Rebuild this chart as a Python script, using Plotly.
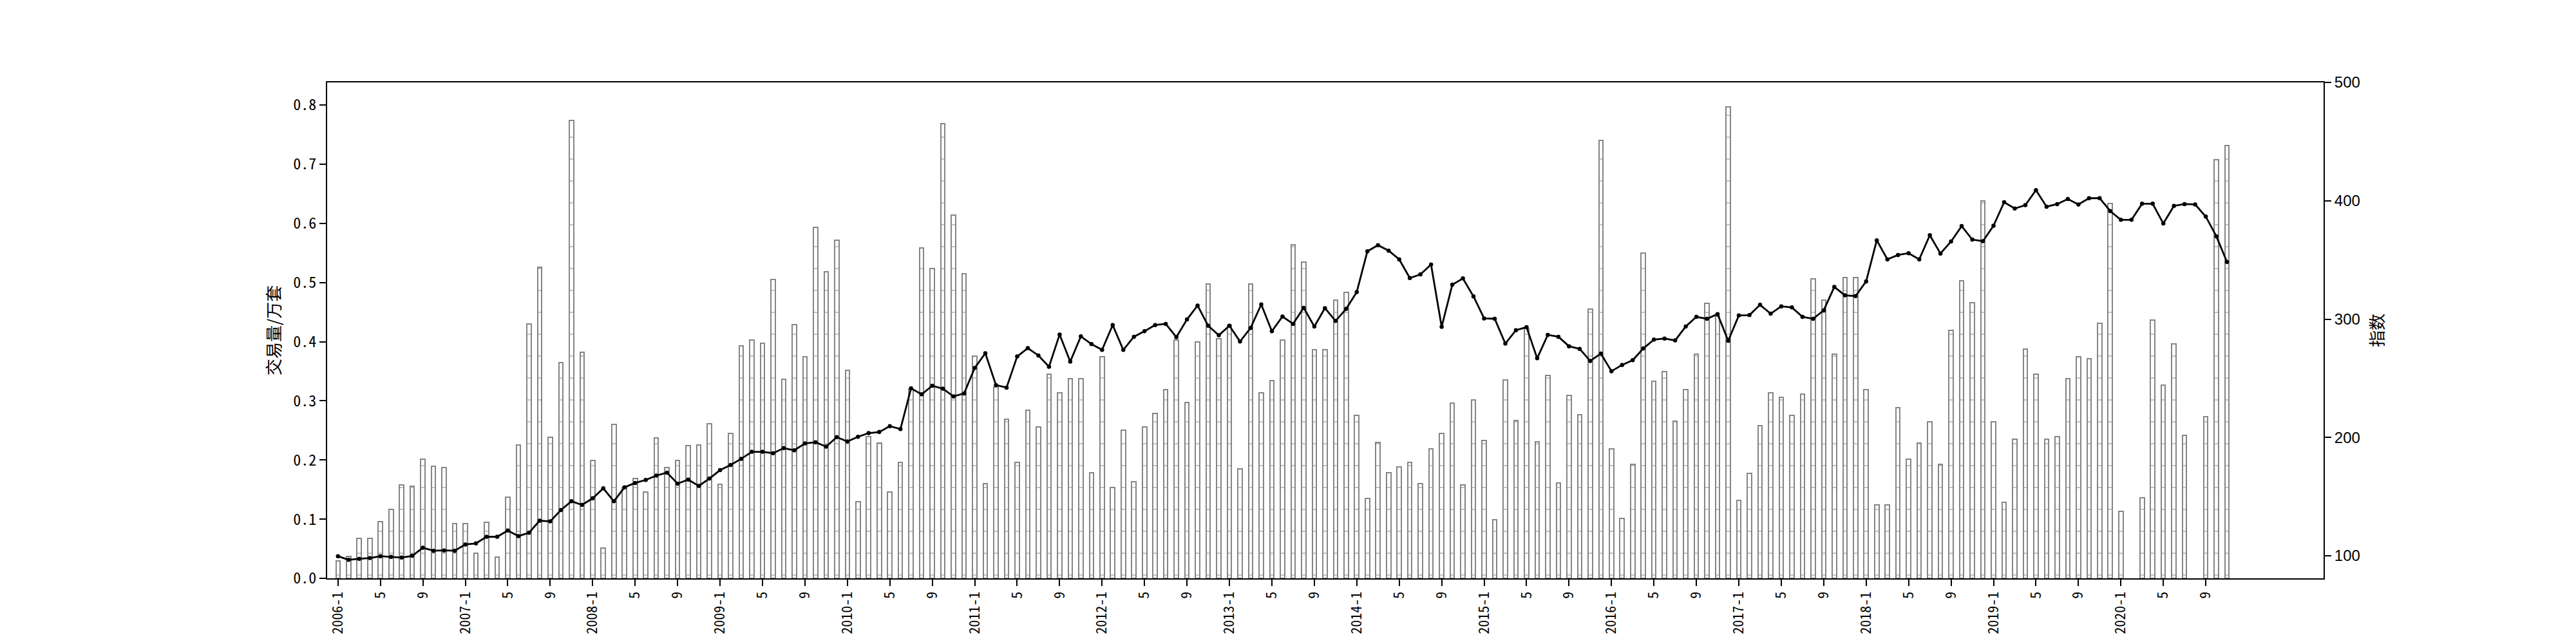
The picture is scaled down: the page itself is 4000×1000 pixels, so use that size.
import plotly.graph_objects as go

# ---- data ----
years = list(range(2006, 2021))
months = [f"{y}-{m}" for y in years for m in range(1, 13)][:179]  # 2006-1 .. 2020-11

volume = [
    0.029, 0.037, 0.067, 0.067, 0.096, 0.116, 0.158, 0.156, 0.201, 0.189, 0.187, 0.093,  # 2006
    0.093, 0.043, 0.095, 0.036, 0.137, 0.225, 0.430, 0.526, 0.238, 0.365, 0.774, 0.382,  # 2007
    0.199, 0.051, 0.260, 0.154, 0.169, 0.146, 0.237, 0.187, 0.199, 0.224, 0.225, 0.261,  # 2008
    0.159, 0.245, 0.393, 0.403, 0.397, 0.505, 0.336, 0.429, 0.374, 0.593, 0.518, 0.571,  # 2009
    0.352, 0.130, 0.239, 0.229, 0.146, 0.196, 0.320, 0.558, 0.524, 0.769, 0.614, 0.515,  # 2010
    0.376, 0.160, 0.323, 0.269, 0.196, 0.284, 0.256, 0.345, 0.313, 0.338, 0.338, 0.178,  # 2011
    0.374, 0.154, 0.250, 0.163, 0.256, 0.279, 0.319, 0.403, 0.297, 0.400, 0.497, 0.405,  # 2012
    0.428, 0.185, 0.497, 0.313, 0.334, 0.403, 0.564, 0.534, 0.386, 0.386, 0.470, 0.483,  # 2013
    0.275, 0.135, 0.230, 0.178, 0.188, 0.196, 0.160, 0.219, 0.245, 0.296, 0.158, 0.301,  # 2014
    0.233, 0.099, 0.335, 0.267, 0.422, 0.231, 0.343, 0.161, 0.309, 0.277, 0.455, 0.740,  # 2015
    0.219, 0.101, 0.193, 0.550, 0.333, 0.349, 0.266, 0.319, 0.379, 0.465, 0.443, 0.797,  # 2016
    0.132, 0.177, 0.258, 0.314, 0.306, 0.275, 0.311, 0.506, 0.470, 0.379, 0.508, 0.508,  # 2017
    0.319, 0.124, 0.124, 0.288, 0.201, 0.229, 0.264, 0.193, 0.419, 0.503, 0.466, 0.638,  # 2018
    0.264, 0.129, 0.235, 0.388, 0.345, 0.235, 0.239, 0.338, 0.374, 0.371, 0.431, 0.634,  # 2019
    0.113, None, 0.136, 0.437, 0.327, 0.396, 0.242, None, 0.273, 0.708, 0.732,           # 2020
]

index_vals = [
    99.7, 96.6, 97.5, 98.1, 99.7, 99.1, 98.5, 100.0, 106.8, 104.3, 104.6, 104.3,          # 2006
    109.6, 110.5, 116.1, 116.1, 121.4, 116.7, 119.5, 129.7, 129.1, 138.7, 146.1, 143.0,   # 2007
    148.6, 157.0, 146.1, 157.9, 161.6, 164.1, 167.8, 170.3, 161.0, 164.4, 159.1, 165.3,   # 2008
    172.4, 176.8, 182.0, 187.9, 187.9, 186.7, 191.0, 189.2, 195.0, 196.0, 192.3, 200.3,   # 2009
    196.6, 200.6, 203.7, 204.6, 209.6, 207.1, 241.5, 236.5, 243.7, 241.2, 234.7, 237.2,   # 2010
    258.8, 271.2, 244.3, 242.1, 268.4, 275.5, 269.3, 259.8, 287.0, 264.1, 285.4, 278.9,   # 2011
    274.0, 295.0, 274.0, 285.1, 289.8, 295.0, 296.0, 284.8, 299.7, 311.5, 294.4, 286.4,   # 2012
    294.4, 281.1, 292.6, 312.4, 289.8, 302.2, 296.0, 309.6, 293.8, 309.3, 298.5, 308.7,   # 2013
    322.9, 357.3, 362.5, 357.9, 350.5, 334.7, 337.8, 346.1, 293.5, 329.1, 334.4, 319.2,   # 2014
    300.6, 300.3, 279.3, 290.7, 293.2, 266.9, 286.7, 285.1, 277.1, 274.9, 264.7, 270.9,   # 2015
    256.0, 261.3, 265.3, 275.2, 282.7, 283.6, 282.0, 293.8, 301.9, 300.3, 304.3, 281.7,   # 2016
    303.1, 303.4, 312.1, 304.6, 310.8, 309.9, 301.9, 300.3, 307.4, 327.2, 320.1, 319.5,   # 2017
    331.9, 366.6, 350.5, 354.2, 355.7, 350.5, 370.9, 355.4, 365.6, 378.6, 367.2, 365.9,   # 2018
    378.9, 398.8, 393.5, 396.3, 409.0, 395.0, 397.2, 401.5, 396.9, 402.2, 402.2, 391.3,   # 2019
    383.9, 383.9, 397.5, 397.5, 380.8, 395.7, 397.2, 396.9, 386.7, 370.0, 348.3,          # 2020
]

# tick labels: year-1 at January, then months 5 and 9
tick_pos = [i for i, m in enumerate(months) if m.split("-")[1] in ("1", "5", "9")]
tick_text = [m if m.endswith("-1") else m.split("-")[1] for m in (months[i] for i in tick_pos)]

left_ticks = [0.0, 0.1, 0.2, 0.3, 0.4, 0.5, 0.6, 0.7, 0.8]
left_tick_text = ["0.0", "0.1", "0.2", "0.3", "0.4", "0.5", "0.6", "0.7", "0.8"]
right_ticks = [100, 200, 300, 400, 500]

x = list(range(len(months)))

CJK_MONO = "Noto Sans Mono CJK SC, Noto Sans CJK SC, sans-serif"
CJK = "Noto Sans CJK SC, sans-serif"
GRAY = "#858585"

fig = go.Figure()
fig.add_trace(go.Bar(
    x=x, y=volume, width=0.4, yaxis="y",
    marker=dict(color="white", line=dict(color=GRAY, width=2),
                pattern=dict(shape="-", fgcolor=GRAY, bgcolor="white", size=34, solidity=0.06)),
    showlegend=False, hoverinfo="skip",
))
fig.add_trace(go.Scatter(
    x=x, y=index_vals, yaxis="y2", mode="lines+markers",
    line=dict(color="black", width=2.8),
    marker=dict(color="black", size=6.5),
    showlegend=False,
))

axis_common = dict(showgrid=False, zeroline=False, showline=True, linecolor="black", linewidth=2,
                   ticks="outside", ticklen=10, tickwidth=2, tickcolor="black")

fig.update_layout(
    width=4000, height=1000,
    margin=dict(l=500, r=400, t=120, b=110),
    paper_bgcolor="white", plot_bgcolor="white",
    bargap=0,
    xaxis=dict(**axis_common, mirror=True, range=[-1.02, 187.1],
               tickmode="array", tickvals=tick_pos, ticktext=tick_text, tickangle=-90,
               tickfont=dict(family=CJK_MONO, size=22, color="black")),
    yaxis=dict(**axis_common, range=[0, 0.8382], tickmode="array",
               tickvals=left_ticks, ticktext=left_tick_text,
               tickfont=dict(family=CJK_MONO, size=24, color="black")),
    yaxis2=dict(**axis_common, overlaying="y", side="right", range=[81, 500],
                tickmode="array", tickvals=right_ticks,
                tickfont=dict(family="Liberation Sans, Arial, sans-serif", size=24, color="black")),
    annotations=[
        dict(text="交易量/万套", xref="paper", yref="paper", x=-0.0274, y=0.5,
             textangle=-90, showarrow=False, xanchor="center", yanchor="middle",
             font=dict(family=CJK, size=26, color="black")),
        dict(text="指数", xref="paper", yref="paper", x=1.0261, y=0.5,
             textangle=-90, showarrow=False, xanchor="center", yanchor="middle",
             font=dict(family=CJK, size=26, color="black")),
    ],
)

fig.write_html("out.html")
